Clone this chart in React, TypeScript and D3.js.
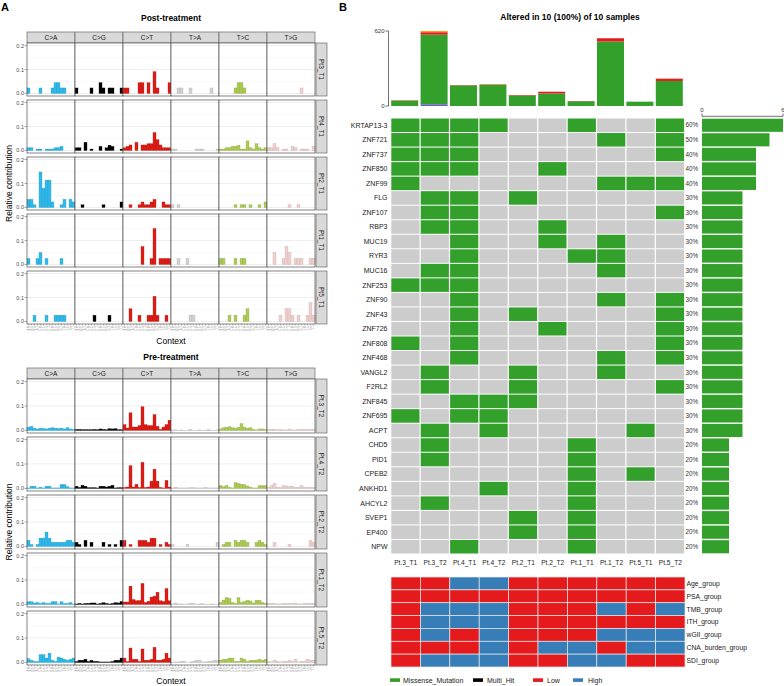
import React, { useEffect, useRef } from "react";
import * as d3 from "d3";

// ---------- Panel A data ----------
const mutTypes = ["C>A", "C>G", "C>T", "T>A", "T>C", "T>G"];
const mutColors = ["#2EBAED", "#000000", "#DE1C14", "#D4D2D2", "#ADCC54", "#F0D0CE"];
const contextLabels = [
  "A.A", "A.C", "A.G", "A.T", "C.A", "C.C", "C.G", "C.T",
  "G.A", "G.C", "G.G", "G.T", "T.A", "T.C", "T.G", "T.T",
];
const yTicksA = [0, 0.1, 0.2];
const yTickLabelsA = ["0.0", "0.1", "0.2"];

const postSamples = ["Pt3_T1", "Pt4_T1", "Pt2_T1", "Pt1_T1", "Pt5_T1"];
const preSamples = ["Pt.3_T2", "Pt.4_T2", "Pt.2_T2", "Pt.1_T2", "Pt.5_T2"];

// 96 values each: C>A, C>G, C>T, T>A, T>C, T>G (16 each)
const pt3T1 = [
  0.023, 0, 0, 0, 0.023, 0, 0, 0, 0.023, 0.045, 0.045, 0.023, 0.023, 0, 0, 0,
  0.023, 0, 0, 0, 0, 0.023, 0, 0, 0.045, 0.023, 0, 0.023, 0.023, 0, 0, 0.023,
  0.023, 0.023, 0, 0, 0, 0.045, 0.045, 0, 0.045, 0, 0.091, 0.023, 0, 0, 0, 0.045,
  0, 0, 0.023, 0.023, 0, 0, 0.023, 0, 0, 0, 0, 0, 0, 0.023, 0, 0,
  0, 0, 0, 0, 0, 0.023, 0.045, 0.045, 0.023, 0, 0, 0, 0, 0, 0, 0,
  0, 0, 0, 0, 0, 0, 0, 0, 0, 0, 0, 0.023, 0, 0, 0, 0,
];
const pt4T1 = [
  0.011, 0.011, 0, 0.006, 0.006, 0, 0.006, 0.006, 0.006, 0.011, 0.011, 0.017, 0, 0, 0, 0,
  0.011, 0.011, 0, 0.034, 0, 0.006, 0, 0, 0.017, 0, 0.011, 0.022, 0.017, 0, 0, 0.006,
  0.011, 0.017, 0.023, 0, 0.034, 0, 0.023, 0.023, 0.028, 0.028, 0.075, 0.045, 0.023, 0.011, 0.011, 0.011,
  0.006, 0.006, 0, 0, 0, 0, 0, 0, 0.006, 0.006, 0.006, 0, 0, 0, 0, 0.006,
  0.006, 0.006, 0.011, 0.011, 0.017, 0.017, 0.022, 0.006, 0.006, 0.04, 0.011, 0.006, 0.028, 0.011, 0.006, 0.011,
  0.011, 0.011, 0.028, 0.011, 0, 0.006, 0.006, 0, 0.017, 0.011, 0, 0.006, 0.006, 0.006, 0, 0.017,
];
const pt2T1 = [
  0.034, 0.034, 0.011, 0, 0.148, 0.08, 0.114, 0.114, 0.023, 0, 0, 0.011, 0.034, 0, 0.034, 0.023,
  0, 0, 0.011, 0, 0, 0, 0, 0, 0, 0.011, 0, 0, 0, 0, 0, 0.023,
  0, 0, 0.011, 0, 0, 0.011, 0.023, 0.011, 0.011, 0.023, 0.034, 0, 0, 0.023, 0.011, 0.011,
  0.011, 0, 0.011, 0, 0, 0, 0, 0, 0, 0, 0, 0, 0, 0, 0, 0,
  0, 0, 0, 0, 0, 0.011, 0, 0.011, 0.011, 0, 0.011, 0, 0, 0.011, 0, 0.023,
  0, 0, 0, 0, 0, 0, 0, 0.011, 0, 0, 0.011, 0, 0, 0, 0, 0,
];
const pt1T1 = [
  0.025, 0, 0, 0.025, 0.05, 0, 0.025, 0, 0, 0, 0, 0.025, 0, 0, 0, 0,
  0, 0, 0, 0, 0, 0, 0, 0, 0, 0, 0, 0, 0, 0, 0, 0,
  0, 0, 0, 0, 0, 0, 0.075, 0, 0, 0.025, 0.15, 0, 0.025, 0.025, 0.025, 0.025,
  0, 0, 0.025, 0, 0, 0.025, 0, 0, 0, 0, 0, 0, 0, 0, 0, 0,
  0.025, 0.025, 0, 0, 0, 0.025, 0, 0.025, 0.025, 0, 0, 0, 0, 0, 0, 0,
  0, 0, 0.05, 0, 0, 0.025, 0.075, 0.05, 0, 0.025, 0.025, 0.025, 0, 0, 0.025, 0.025,
];
const pt5T1 = [
  0, 0, 0.026, 0, 0, 0, 0.026, 0, 0, 0.026, 0.026, 0.026, 0.026, 0, 0, 0,
  0, 0, 0, 0, 0, 0, 0.026, 0, 0, 0, 0, 0.026, 0, 0, 0, 0,
  0, 0, 0.053, 0, 0, 0.026, 0, 0, 0.026, 0.026, 0.105, 0.026, 0, 0, 0.026, 0,
  0, 0, 0, 0, 0, 0, 0.026, 0.026, 0, 0, 0, 0, 0, 0, 0, 0,
  0, 0, 0, 0.026, 0, 0.026, 0, 0, 0.026, 0.053, 0, 0, 0, 0, 0, 0,
  0, 0, 0, 0, 0.026, 0, 0.053, 0.053, 0.026, 0, 0.026, 0, 0, 0.026, 0.079, 0.026,
];
const pt3T2 = [
  0.013, 0.017, 0.009, 0.006, 0.009, 0.008, 0.006, 0.009, 0.011, 0.009, 0.008, 0.009, 0.006, 0.011, 0.006, 0.004,
  0.004, 0.004, 0.003, 0.003, 0.003, 0.003, 0.004, 0.003, 0.006, 0.004, 0.003, 0.007, 0.006, 0.007, 0.003, 0.003,
  0.024, 0.01, 0.072, 0.014, 0.014, 0.02, 0.097, 0.024, 0.02, 0.02, 0.065, 0.017, 0.005, 0.014, 0.024, 0.042,
  0.002, 0.002, 0.001, 0.002, 0.001, 0.001, 0.004, 0.001, 0.001, 0.002, 0.001, 0.001, 0.003, 0.001, 0.001, 0.002,
  0.006, 0.011, 0.013, 0.015, 0.011, 0.009, 0.013, 0.028, 0.013, 0.009, 0.011, 0.004, 0.002, 0.006, 0.006, 0.004,
  0.004, 0.004, 0.004, 0.002, 0.004, 0.002, 0.002, 0.006, 0.002, 0.002, 0.004, 0.004, 0.004, 0.004, 0.004, 0.004,
];
const pt4T2 = [
  0.002, 0.009, 0.009, 0.002, 0.005, 0.002, 0.009, 0.009, 0.002, 0.002, 0.002, 0.016, 0.016, 0.007, 0.002, 0.002,
  0.009, 0.004, 0.013, 0.009, 0.003, 0.003, 0.003, 0.002, 0.009, 0.009, 0.006, 0.009, 0.013, 0.002, 0.003, 0.003,
  0.004, 0.006, 0.093, 0.006, 0.017, 0.004, 0.107, 0.004, 0.006, 0.03, 0.079, 0.03, 0.004, 0.002, 0.033, 0.006,
  0.002, 0.005, 0.002, 0.002, 0.002, 0.002, 0.003, 0.003, 0.002, 0.002, 0.002, 0.004, 0.002, 0.002, 0.002, 0.002,
  0.012, 0.007, 0.012, 0.004, 0.002, 0.024, 0.02, 0.017, 0.015, 0.01, 0.005, 0.002, 0.002, 0.011, 0.011, 0.011,
  0.004, 0.011, 0.02, 0.004, 0.004, 0.012, 0.01, 0.007, 0.008, 0.004, 0.004, 0.012, 0.004, 0.004, 0.004, 0.004,
];
const pt2T2 = [
  0.025, 0.008, 0, 0.008, 0.034, 0.034, 0.059, 0.034, 0.017, 0.017, 0.017, 0.017, 0.017, 0.025, 0.025, 0.017,
  0.017, 0.008, 0, 0.025, 0, 0.017, 0, 0, 0, 0.017, 0, 0.008, 0, 0.008, 0, 0.025,
  0.025, 0, 0.008, 0, 0, 0.025, 0.025, 0.025, 0.017, 0.034, 0.034, 0, 0.008, 0, 0.017, 0.008,
  0.008, 0, 0, 0, 0, 0.008, 0, 0, 0, 0, 0, 0, 0, 0, 0, 0.017,
  0, 0.008, 0.017, 0.017, 0, 0.025, 0.017, 0.025, 0.025, 0.017, 0, 0, 0.017, 0.025, 0.017, 0.008,
  0, 0, 0.017, 0, 0, 0, 0, 0.008, 0, 0, 0, 0, 0, 0, 0.025, 0.017,
];
const pt1T2 = [
  0.011, 0.011, 0.006, 0.008, 0.004, 0.008, 0.004, 0.004, 0.011, 0.011, 0.002, 0.011, 0.004, 0.004, 0.008, 0.002,
  0.002, 0.004, 0.002, 0.004, 0.004, 0.006, 0.006, 0.002, 0.004, 0.007, 0.004, 0.002, 0.004, 0.007, 0.006, 0.012,
  0.01, 0.01, 0.075, 0.02, 0.015, 0.016, 0.086, 0.008, 0.013, 0.03, 0.034, 0.05, 0.015, 0.012, 0.065, 0.015,
  0.002, 0.006, 0.002, 0.002, 0.001, 0.002, 0.004, 0.004, 0.001, 0.002, 0.003, 0.001, 0.001, 0.002, 0.001, 0.001,
  0.008, 0.018, 0.028, 0.025, 0.008, 0.004, 0.028, 0.008, 0.012, 0.017, 0.014, 0.006, 0.017, 0.017, 0.008, 0.004,
  0.004, 0.004, 0.003, 0.002, 0.002, 0.004, 0.003, 0.003, 0.004, 0.006, 0.002, 0.002, 0.003, 0.004, 0.003, 0.004,
];
const pt5T2 = [
  0.015, 0.009, 0.004, 0.004, 0.032, 0.032, 0.018, 0.038, 0.009, 0.004, 0.022, 0.018, 0.013, 0.009, 0.013, 0.018,
  0.004, 0.009, 0.009, 0.013, 0.004, 0.009, 0.004, 0.004, 0.002, 0.002, 0.002, 0.002, 0.004, 0.009, 0.009, 0.018,
  0.018, 0.004, 0.059, 0.013, 0.013, 0.004, 0.055, 0.009, 0.009, 0.013, 0.062, 0.009, 0.009, 0.013, 0.038, 0.018,
  0.002, 0.002, 0.002, 0.004, 0.004, 0, 0.002, 0.004, 0.009, 0.009, 0.002, 0.002, 0.004, 0.004, 0.009, 0.009,
  0.009, 0.013, 0.013, 0.018, 0.018, 0.004, 0.004, 0.018, 0.013, 0.004, 0.009, 0.009, 0.009, 0.013, 0.009, 0.013,
  0.004, 0.002, 0.009, 0.004, 0.002, 0.004, 0.004, 0.009, 0.004, 0.013, 0.002, 0.004, 0.004, 0.013, 0.009, 0.009,
];
const postProfiles = [pt3T1, pt4T1, pt2T1, pt1T1, pt5T1];
const preProfiles = [pt3T2, pt4T2, pt2T2, pt1T2, pt5T2];

// ---------- Panel B data ----------
const samples = ["Pt.3_T1", "Pt.3_T2", "Pt.4_T1", "Pt.4_T2", "Pt.2_T1", "Pt.2_T2", "Pt.1_T1", "Pt.1_T2", "Pt.5_T1", "Pt.5_T2"];
const frameShiftDel = [0, 14, 0, 0, 0, 0, 0, 0, 0, 0];
const missense = [44, 576, 170, 176, 87, 104, 39, 533, 36, 207];
const nonsense = [3, 20, 3, 3, 4, 14, 2, 27, 0, 19];
const spliceSite = [0, 10, 1, 3, 0, 0, 0, 0, 0, 0];
const topMax = 620;

const genes = [
  "KRTAP13-3", "ZNF721", "ZNF737", "ZNF850", "ZNF99", "FLG", "ZNF107", "RBP3", "MUC19", "RYR3",
  "MUC16", "ZNF253", "ZNF90", "ZNF43", "ZNF726", "ZNF808", "ZNF468", "VANGL2", "F2RL2", "ZNF845",
  "ZNF695", "ACPT", "CHD5", "PID1", "CPEB2", "ANKHD1", "AHCYL2", "SVEP1", "EP400", "NPW",
];
// one string per gene, one digit per sample (1 = Missense_Mutation)
const geneMatrix = [
  "1111001001", "1110000101", "1110000001", "1110010000", "1000000111",
  "0110100000", "0110000001", "0110010000", "0010010100", "0010001100",
  "0110000100", "1110000000", "0010000101", "0010100001", "0010010001",
  "1010000001", "0010000101", "0100100100", "0100100001", "0011100000",
  "1011000000", "0101000010", "0100001000", "0100001000", "0000001010",
  "0001001000", "0100001000", "0000101000", "0000101000", "0010001000",
];
const genePct = [
  "60%", "50%", "40%", "40%", "40%", "30%", "30%", "30%", "30%", "30%",
  "30%", "30%", "30%", "30%", "30%", "30%", "30%", "30%", "30%", "30%",
  "30%", "30%", "20%", "20%", "20%", "20%", "20%", "20%", "20%", "20%",
];
const geneCount = [6, 5, 4, 4, 4, 3, 3, 3, 3, 3, 3, 3, 3, 3, 3, 3, 3, 3, 3, 3, 3, 3, 2, 2, 2, 2, 2, 2, 2, 2];

const annoRows = ["Age_group", "PSA_group", "TMB_group", "ITH_group", "wGII_group", "CNA_burden_group", "SDI_group"];
// L = Low, H = High
const annoValues = [
  "LLHHLLLLLL",
  "LLLLLLLLLL",
  "LHHHLLLHLH",
  "LHHHLLLLLL",
  "LHLHLLLHHH",
  "LLLHLHHLHH",
  "LHHHLLHHLL",
];

const GREEN = "#33A02C";
const GREY = "#CCCCCC";
const RED = "#E41A1C";
const BLUE = "#377EB8";
const FONT = "Liberation Sans, Arial, Helvetica, sans-serif";

function drawProfiles(svg: any, cfg: any) {
  const g = svg.append("g");
  const fx = d3.scaleBand<string>().domain(mutTypes).range([27, 315]);
  const bx = d3.scaleBand<number>().domain(d3.range(16)).range([0, fx.bandwidth()]);
  const n = cfg.samples.length;
  const lastBottom = cfg.rowTop + (n - 1) * cfg.rowStep + cfg.rowH;

  g.append("text")
    .attr("x", 171)
    .attr("y", cfg.titleY)
    .attr("text-anchor", "middle")
    .attr("font-size", 8.5)
    .attr("font-weight", "bold")
    .text(cfg.title);

  // facet strips on top
  mutTypes.forEach((m) => {
    g.append("rect")
      .attr("x", fx(m))
      .attr("y", cfg.stripTop)
      .attr("width", fx.bandwidth())
      .attr("height", cfg.rowTop - cfg.stripTop)
      .attr("fill", "#d9d9d9")
      .attr("stroke", "#555")
      .attr("stroke-width", 0.6);
    g.append("text")
      .attr("x", (fx(m) as number) + fx.bandwidth() / 2)
      .attr("y", cfg.stripTop + (cfg.rowTop - cfg.stripTop) / 2 + 2.3)
      .attr("text-anchor", "middle")
      .attr("font-size", 6.5)
      .attr("fill", "#1a1a1a")
      .text(m);
  });

  cfg.samples.forEach((s: string, i: number) => {
    const top = cfg.rowTop + i * cfg.rowStep;
    const y = d3.scaleLinear().domain([-0.0105, 0.2105]).range([top + cfg.rowH, top]);

    mutTypes.forEach((m, k) => {
      const px = fx(m) as number;
      g.append("rect")
        .attr("x", px)
        .attr("y", top)
        .attr("width", fx.bandwidth())
        .attr("height", cfg.rowH)
        .attr("fill", "#fff");
      // minor + major gridlines
      [0.05, 0.15].forEach((t) => {
        g.append("line")
          .attr("x1", px).attr("x2", px + fx.bandwidth())
          .attr("y1", y(t)).attr("y2", y(t))
          .attr("stroke", "#f2f2f2").attr("stroke-width", 0.5);
      });
      yTicksA.forEach((t) => {
        g.append("line")
          .attr("x1", px).attr("x2", px + fx.bandwidth())
          .attr("y1", y(t)).attr("y2", y(t))
          .attr("stroke", "#e6e6e6").attr("stroke-width", 0.7);
      });
      const vals = cfg.profiles[i].slice(k * 16, k * 16 + 16);
      g.selectAll(null)
        .data(vals.map((v: number, j: number) => ({ v, j })).filter((d: any) => d.v > 0))
        .enter()
        .append("rect")
        .attr("x", (d: any) => px + (bx(d.j) as number))
        .attr("y", (d: any) => y(d.v))
        .attr("width", bx.bandwidth())
        .attr("height", (d: any) => y(0) - y(d.v))
        .attr("fill", mutColors[k])
        .attr("stroke", d3.color(mutColors[k])!.darker(0.7).formatHex())
        .attr("stroke-width", 0.3);
      g.append("rect")
        .attr("x", px)
        .attr("y", top)
        .attr("width", fx.bandwidth())
        .attr("height", cfg.rowH)
        .attr("fill", "none")
        .attr("stroke", "#4d4d4d")
        .attr("stroke-width", 0.7);
    });

    // y axis
    yTicksA.forEach((t, ti) => {
      g.append("line")
        .attr("x1", 24.5).attr("x2", 27)
        .attr("y1", y(t)).attr("y2", y(t))
        .attr("stroke", "#555").attr("stroke-width", 0.5);
      g.append("text")
        .attr("x", 24)
        .attr("y", y(t) + 2)
        .attr("text-anchor", "end")
        .attr("font-size", 5.5)
        .attr("fill", "#4d4d4d")
        .text(yTickLabelsA[ti]);
    });

    // right strip
    g.append("rect")
      .attr("x", 316)
      .attr("y", top)
      .attr("width", 11)
      .attr("height", cfg.rowH)
      .attr("fill", "#d9d9d9")
      .attr("stroke", "#555")
      .attr("stroke-width", 0.6);
    g.append("text")
      .attr("transform", `translate(${319.3},${top + cfg.rowH / 2}) rotate(90)`)
      .attr("text-anchor", "middle")
      .attr("font-size", 6.5)
      .attr("fill", "#1a1a1a")
      .text(s);
  });

  // x tick labels (contexts)
  mutTypes.forEach((m) => {
    contextLabels.forEach((c, j) => {
      const cx = (fx(m) as number) + (bx(j) as number) + bx.bandwidth() / 2;
      g.append("line")
        .attr("x1", cx).attr("x2", cx)
        .attr("y1", lastBottom).attr("y2", lastBottom + 1.5)
        .attr("stroke", "#666").attr("stroke-width", 0.4);
      g.append("text")
        .attr("transform", `translate(${cx + 0.9},${lastBottom + 2.2}) rotate(-90)`)
        .attr("text-anchor", "end")
        .attr("font-size", 2.6)
        .attr("fill", "#999")
        .text(c);
    });
  });

  g.append("text")
    .attr("x", 171)
    .attr("y", cfg.contextY)
    .attr("text-anchor", "middle")
    .attr("font-size", 8.5)
    .text("Context");

  g.append("text")
    .attr("transform", `translate(12,${(cfg.rowTop + lastBottom) / 2}) rotate(-90)`)
    .attr("text-anchor", "middle")
    .attr("font-size", 8.5)
    .text("Relative contribution");
}

function drawOncoplot(svg: any) {
  const g = svg.append("g");
  const x = d3.scaleBand<string>().domain(samples).range([391, 685]);
  const bw = x.bandwidth();

  g.append("text")
    .attr("x", 570)
    .attr("y", 20)
    .attr("text-anchor", "middle")
    .attr("font-size", 8.5)
    .attr("font-weight", "bold")
    .text("Altered in 10 (100%) of 10 samples");

  // top stacked bar
  const yTop = d3.scaleLinear().domain([0, topMax]).range([106, 31]);
  const table = samples.map((s, i) => ({
    sample: s,
    Frame_Shift_Del: frameShiftDel[i],
    Missense_Mutation: missense[i],
    Nonsense_Mutation: nonsense[i],
    Splice_Site: spliceSite[i],
  }));
  const keys = ["Frame_Shift_Del", "Missense_Mutation", "Nonsense_Mutation", "Splice_Site"];
  const keyColors: Record<string, string> = {
    Frame_Shift_Del: "#6A5ACD",
    Missense_Mutation: GREEN,
    Nonsense_Mutation: RED,
    Splice_Site: "#FF9A1F",
  };
  const stacked = d3.stack<any>().keys(keys)(table);
  stacked.forEach((layer) => {
    g.selectAll(null)
      .data(layer)
      .enter()
      .append("rect")
      .attr("x", (d: any) => (x(d.data.sample) as number) + 0.2)
      .attr("y", (d: any) => yTop(d[1]))
      .attr("width", bw - 2.4)
      .attr("height", (d: any) => yTop(d[0]) - yTop(d[1]))
      .attr("fill", keyColors[layer.key]);
  });
  g.append("line")
    .attr("x1", 388.5).attr("x2", 388.5)
    .attr("y1", yTop(topMax)).attr("y2", yTop(0))
    .attr("stroke", "#333").attr("stroke-width", 0.7);
  [0, topMax].forEach((t) => {
    g.append("line")
      .attr("x1", 385.5).attr("x2", 388.5)
      .attr("y1", yTop(t)).attr("y2", yTop(t))
      .attr("stroke", "#333").attr("stroke-width", 0.7);
    g.append("text")
      .attr("x", 384.5)
      .attr("y", yTop(t) + 2)
      .attr("text-anchor", "end")
      .attr("font-size", 6)
      .attr("fill", "#333")
      .text(t);
  });

  // matrix
  const y = d3.scaleBand<string>().domain(genes).range([118, 554]);
  const bh = y.bandwidth();
  genes.forEach((gene, r) => {
    const yy = y(gene) as number;
    samples.forEach((s, c) => {
      g.append("rect")
        .attr("x", (x(s) as number) + 0.3)
        .attr("y", yy + 0.5)
        .attr("width", bw - 1.2)
        .attr("height", bh - 1)
        .attr("fill", geneMatrix[r][c] === "1" ? GREEN : GREY);
    });
    g.append("text")
      .attr("x", 387.5)
      .attr("y", yy + bh / 2 + 2.4)
      .attr("text-anchor", "end")
      .attr("font-size", 7)
      .attr("fill", "#222")
      .text(gene);
    g.append("text")
      .attr("x", 685.5)
      .attr("y", yy + bh / 2 + 2.2)
      .attr("font-size", 6.3)
      .attr("fill", "#333")
      .text(genePct[r]);
  });

  // right bar
  const xR = d3.scaleLinear().domain([0, 6]).range([702, 783]);
  g.selectAll(null)
    .data(genes)
    .enter()
    .append("rect")
    .attr("x", xR(0))
    .attr("y", (d: string) => (y(d) as number) + 0.7)
    .attr("width", (_: string, i: number) => xR(geneCount[i]) - xR(0))
    .attr("height", bh - 1.4)
    .attr("fill", GREEN);
  g.append("line")
    .attr("x1", xR(0)).attr("x2", xR(6))
    .attr("y1", 116.3).attr("y2", 116.3)
    .attr("stroke", "#333").attr("stroke-width", 0.7);
  [0, 6].forEach((t) => {
    g.append("line")
      .attr("x1", xR(t)).attr("x2", xR(t))
      .attr("y1", 113.5).attr("y2", 116.3)
      .attr("stroke", "#333").attr("stroke-width", 0.7);
    g.append("text")
      .attr("x", xR(t))
      .attr("y", 112)
      .attr("text-anchor", "middle")
      .attr("font-size", 6)
      .attr("fill", "#333")
      .text(t);
  });

  // sample labels
  samples.forEach((s) => {
    g.append("text")
      .attr("x", (x(s) as number) + bw / 2)
      .attr("y", 564.5)
      .attr("text-anchor", "middle")
      .attr("font-size", 6.6)
      .attr("fill", "#222")
      .text(s);
  });

  // annotation
  const ya = d3.scaleBand<string>().domain(annoRows).range([577, 667]);
  annoRows.forEach((a, r) => {
    samples.forEach((s, c) => {
      g.append("rect")
        .attr("x", x(s))
        .attr("y", ya(a))
        .attr("width", bw)
        .attr("height", ya.bandwidth())
        .attr("fill", annoValues[r][c] === "H" ? BLUE : RED)
        .attr("stroke", "#e8e8e8")
        .attr("stroke-width", 0.7);
    });
    g.append("text")
      .attr("x", 686.5)
      .attr("y", (ya(a) as number) + ya.bandwidth() / 2 + 2.4)
      .attr("font-size", 6.8)
      .attr("fill", "#222")
      .text(a);
  });

  // legend
  const legend = [
    { label: "Missense_Mutation", color: GREEN, x: 390, tx: 403 },
    { label: "Multi_Hit", color: "#000", x: 473, tx: 487 },
    { label: "Low", color: RED, x: 533, tx: 547 },
    { label: "High", color: BLUE, x: 573, tx: 588 },
  ];
  legend.forEach((l) => {
    g.append("rect")
      .attr("x", l.x).attr("y", 678.3)
      .attr("width", 10).attr("height", 3.6)
      .attr("fill", l.color);
    g.append("text")
      .attr("x", l.tx).attr("y", 682.8)
      .attr("font-size", 7)
      .attr("fill", "#222")
      .text(l.label);
  });
}

const App = () => {
  const svgRef = useRef<SVGSVGElement>(null);

  useEffect(() => {
    const svg = d3.select(svgRef.current);
    svg.selectAll("*").remove();

    svg.append("text").attr("x", 1).attr("y", 10.5)
      .attr("font-size", 11).attr("font-weight", "bold").text("A");
    svg.append("text").attr("x", 339).attr("y", 10.5)
      .attr("font-size", 11).attr("font-weight", "bold").text("B");

    drawProfiles(svg, {
      title: "Post-treatment",
      titleY: 21,
      stripTop: 32,
      rowTop: 43,
      rowStep: 57,
      rowH: 53,
      samples: postSamples,
      profiles: postProfiles,
      contextY: 343.5,
    });
    drawProfiles(svg, {
      title: "Pre-treatment",
      titleY: 360,
      stripTop: 368,
      rowTop: 379,
      rowStep: 58,
      rowH: 54,
      samples: preSamples,
      profiles: preProfiles,
      contextY: 684,
    });
    drawOncoplot(svg);
  }, []);

  return (
    <svg
      ref={svgRef}
      width={784}
      height={686}
      fontFamily={FONT}
      style={{ position: "absolute", left: 0, top: 0, background: "#fff" }}
    />
  );
};

export default App;
